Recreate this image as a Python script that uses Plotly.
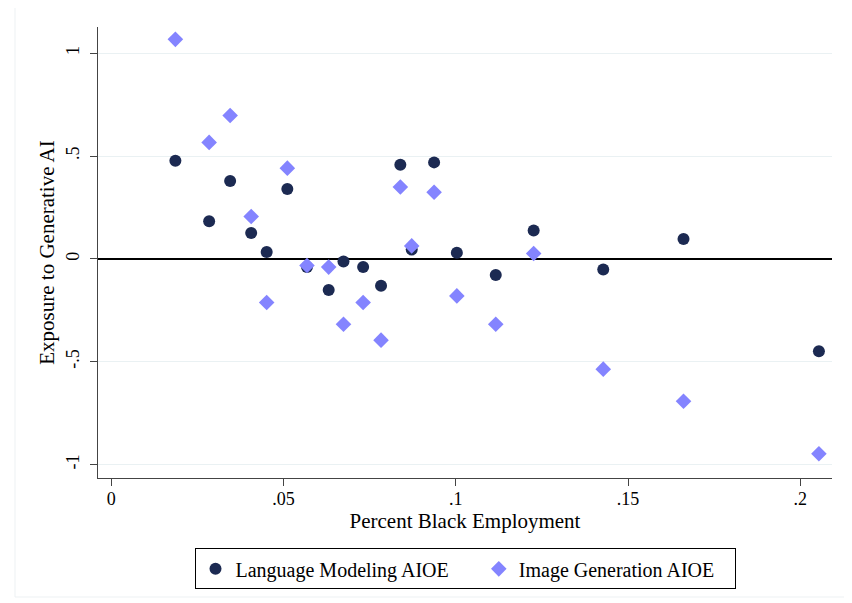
import plotly.graph_objects as go

lang_x = [0.0186, 0.0284, 0.0345, 0.0406, 0.0451, 0.0511, 0.0568, 0.0631, 0.0674, 0.0731,
          0.0783, 0.0839, 0.0872, 0.0937, 0.1003, 0.1116, 0.1226, 0.1428, 0.1661, 0.2054]
lang_y = [0.477, 0.183, 0.378, 0.126, 0.033, 0.340, -0.040, -0.151, -0.013, -0.040,
          -0.131, 0.457, 0.045, 0.469, 0.030, -0.078, 0.138, -0.052, 0.097, -0.449]

img_x = lang_x
img_y = [1.067, 0.566, 0.697, 0.206, -0.212, 0.441, -0.032, -0.040, -0.318, -0.212,
         -0.395, 0.349, 0.063, 0.324, -0.180, -0.318, 0.026, -0.536, -0.692, -0.947]

x_ticks = [0, 0.05, 0.1, 0.15, 0.2]
x_ticktext = ["0", ".05", ".1", ".15", ".2"]
y_ticks = [-1, -0.5, 0, 0.5, 1]
y_ticktext = ["-1", "-.5", "0", ".5", "1"]

FONT = "Liberation Serif, Times New Roman, serif"
NB = "\u00a0"

fig = go.Figure()
fig.add_trace(go.Scatter(x=lang_x, y=lang_y, mode="markers",
                         name="Language Modeling AIOE" + NB * 5,
                         marker=dict(symbol="circle", size=12, color="#1c2a52")))
fig.add_trace(go.Scatter(x=img_x, y=img_y, mode="markers",
                         name="Image Generation AIOE" + NB * 3,
                         marker=dict(symbol="diamond", size=12, color="#8484ff")))

# faint outer graph-region frame
fig.add_shape(type="rect", xref="paper", yref="paper",
              x0=-0.1131, x1=1.1, y0=-0.2639, y1=1.0488,
              line=dict(color="#edf1f3", width=1), fillcolor="rgba(0,0,0,0)", layer="below")

fig.update_layout(
    width=852, height=603,
    margin=dict(l=90, r=28, t=19, b=133, autoexpand=False),
    plot_bgcolor="white", paper_bgcolor="white",
    font=dict(family=FONT, size=17.5, color="black"),
    showlegend=True,
    legend=dict(orientation="h", x=0.5, xanchor="center", y=-0.156, yanchor="top",
                bordercolor="black", borderwidth=1, font=dict(family=FONT, size=20, color="black"),
                itemwidth=30, tracegroupgap=0),
    xaxis=dict(range=[-0.00386, 0.2092], tickvals=x_ticks, ticktext=x_ticktext,
               showgrid=False, zeroline=False, showline=True, linecolor="#444444", linewidth=1.3,
               ticks="outside", ticklen=7, tickcolor="#444444", tickwidth=1.2,
               ticklabelstandoff=-3, automargin=False,
               title=dict(text="Percent Black Employment", standoff=3),
               tickfont=dict(family=FONT, size=18, color="black")),
    yaxis=dict(range=[-1.065, 1.127], tickvals=y_ticks, ticktext=y_ticktext,
               showgrid=True, gridcolor="#eaf1f3", gridwidth=1,
               zeroline=True, zerolinecolor="black", zerolinewidth=2,
               showline=True, linecolor="#444444", linewidth=1.3,
               ticks="outside", ticklen=7, tickcolor="#444444", tickwidth=1.2,
               tickangle=-90, ticklabelstandoff=4, automargin=False,
               title=dict(text="Exposure to Generative AI", standoff=2),
               tickfont=dict(family=FONT, size=18, color="black")),
)

fig.write_html("out.html")
